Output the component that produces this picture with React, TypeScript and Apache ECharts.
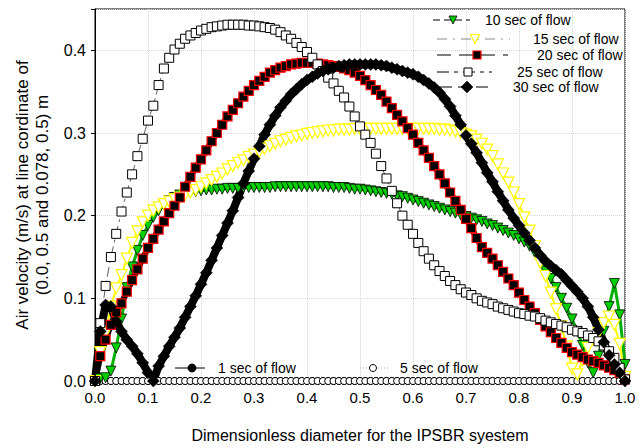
import React, { useEffect, useRef } from "react";
import * as echarts from "echarts";

const xs = [
  0.0, 0.01, 0.02, 0.03, 0.04, 0.05, 0.06, 0.07, 0.08, 0.09,
  0.1, 0.11, 0.12, 0.13, 0.14, 0.15, 0.16, 0.17, 0.18, 0.19,
  0.2, 0.21, 0.22, 0.23, 0.24, 0.25, 0.26, 0.27, 0.28, 0.29,
  0.3, 0.31, 0.32, 0.33, 0.34, 0.35, 0.36, 0.37, 0.38, 0.39,
  0.4, 0.41, 0.42, 0.43, 0.44, 0.45, 0.46, 0.47, 0.48, 0.49,
  0.5, 0.51, 0.52, 0.53, 0.54, 0.55, 0.56, 0.57, 0.58, 0.59,
  0.6, 0.61, 0.62, 0.63, 0.64, 0.65, 0.66, 0.67, 0.68, 0.69,
  0.7, 0.71, 0.72, 0.73, 0.74, 0.75, 0.76, 0.77, 0.78, 0.79,
  0.8, 0.81, 0.82, 0.83, 0.84, 0.85, 0.86, 0.87, 0.88, 0.89,
  0.9, 0.91, 0.92, 0.93, 0.94, 0.95, 0.96, 0.97, 0.98, 0.99, 1.0,
];

const sec1 = [
  0, 0, 0, 0, 0, 0, 0, 0, 0, 0,
  0, 0, 0, 0, 0, 0, 0, 0, 0, 0,
  0, 0, 0, 0, 0, 0, 0, 0, 0, 0,
  0, 0, 0, 0, 0, 0, 0, 0, 0, 0,
  0, 0, 0, 0, 0, 0, 0, 0, 0, 0,
  0, 0, 0, 0, 0, 0, 0, 0, 0, 0,
  0, 0, 0, 0, 0, 0, 0, 0, 0, 0,
  0, 0, 0, 0, 0, 0, 0, 0, 0, 0,
  0, 0, 0, 0, 0, 0, 0, 0, 0, 0,
  0, 0, 0, 0, 0, 0, 0, 0, 0, 0, 0,
];

const sec5 = [
  0, 0, 0, 0, 0, 0, 0, 0, 0, 0,
  0, 0, 0, 0, 0, 0, 0, 0, 0, 0,
  0, 0, 0, 0, 0, 0, 0, 0, 0, 0,
  0, 0, 0, 0, 0, 0, 0, 0, 0, 0,
  0, 0, 0, 0, 0, 0, 0, 0, 0, 0,
  0, 0, 0, 0, 0, 0, 0, 0, 0, 0,
  0, 0, 0, 0, 0, 0, 0, 0, 0, 0,
  0, 0, 0, 0, 0, 0, 0, 0, 0, 0,
  0, 0, 0, 0, 0, 0, 0, 0, 0, 0,
  0, 0, 0, 0, 0, 0, 0, 0, 0, 0, 0,
];

const sec10 = [
  0, 0.003, 0.004, 0.012, 0.04, 0.075, 0.113, 0.138, 0.158, 0.176,
  0.188, 0.198, 0.206, 0.213, 0.218, 0.222, 0.225, 0.227, 0.228, 0.229,
  0.23, 0.231, 0.231, 0.232, 0.232, 0.233, 0.233, 0.233, 0.234, 0.234,
  0.234, 0.234, 0.234, 0.234, 0.235, 0.235, 0.235, 0.235, 0.235, 0.235,
  0.235, 0.235, 0.235, 0.235, 0.235, 0.234, 0.234, 0.234, 0.233, 0.232,
  0.232, 0.231, 0.23, 0.229, 0.228, 0.227, 0.226, 0.224, 0.223, 0.221,
  0.219, 0.217, 0.215, 0.213, 0.211, 0.209, 0.207, 0.205, 0.203, 0.201,
  0.199, 0.197, 0.195, 0.193, 0.19, 0.188, 0.185, 0.182, 0.179, 0.176,
  0.172, 0.168, 0.163, 0.155, 0.146, 0.133, 0.124, 0.113, 0.1, 0.088,
  0.075, 0.06, 0.043, 0.022, 0.01, 0.03, 0.06, 0.09, 0.118, 0.08, 0.02,
];

const sec15 = [
  0, 0.035, 0.058, 0.09, 0.112, 0.128, 0.148, 0.167, 0.181, 0.192,
  0.2, 0.206, 0.21, 0.214, 0.217, 0.22, 0.222, 0.225, 0.228, 0.231,
  0.235, 0.239, 0.243, 0.247, 0.251, 0.256, 0.26, 0.264, 0.267, 0.271,
  0.274, 0.277, 0.281, 0.284, 0.287, 0.29, 0.292, 0.294, 0.296, 0.297,
  0.299, 0.3, 0.301, 0.302, 0.303, 0.303, 0.304, 0.304, 0.304, 0.305,
  0.305, 0.305, 0.305, 0.305, 0.305, 0.305, 0.305, 0.305, 0.305, 0.305,
  0.305, 0.305, 0.305, 0.305, 0.305, 0.304, 0.304, 0.303, 0.302, 0.3,
  0.298, 0.296, 0.292, 0.287, 0.28, 0.272, 0.262, 0.251, 0.24, 0.228,
  0.214, 0.198, 0.182, 0.163, 0.143, 0.127, 0.107, 0.087, 0.066, 0.042,
  0.015, 0.008, 0.025, 0.04, 0.05, 0.058, 0.07, 0.078, 0.068, 0.045, 0.005,
];

const sec20 = [
  0, 0.03, 0.05, 0.068, 0.083, 0.094, 0.108, 0.122, 0.135, 0.148,
  0.161, 0.172, 0.183, 0.193, 0.203, 0.212, 0.222, 0.235, 0.247, 0.258,
  0.268, 0.279, 0.29, 0.3, 0.31, 0.32, 0.328, 0.336, 0.344, 0.351,
  0.358, 0.363, 0.368, 0.373, 0.376, 0.379, 0.381, 0.383, 0.384, 0.385,
  0.385, 0.385, 0.384, 0.383, 0.382, 0.381, 0.38, 0.378, 0.376, 0.373,
  0.369, 0.364, 0.358, 0.352, 0.346, 0.338, 0.33, 0.322, 0.314, 0.306,
  0.298, 0.288, 0.279, 0.27, 0.26, 0.25, 0.239, 0.228, 0.218, 0.207,
  0.196, 0.185, 0.173, 0.162, 0.155, 0.148, 0.14, 0.132, 0.124, 0.116,
  0.107, 0.098, 0.09, 0.082, 0.074, 0.066, 0.059, 0.052, 0.046, 0.04,
  0.035, 0.032, 0.029, 0.026, 0.024, 0.022, 0.019, 0.016, 0.013, 0.01, 0.002,
];

const sec25 = [
  0, 0.07, 0.115, 0.15, 0.178, 0.205, 0.228, 0.25, 0.272, 0.293,
  0.315, 0.333, 0.358, 0.378, 0.391, 0.401, 0.408, 0.414, 0.418, 0.421,
  0.424, 0.426, 0.428, 0.429, 0.43, 0.431, 0.431, 0.431, 0.431, 0.43,
  0.43, 0.429, 0.428, 0.427, 0.425, 0.422, 0.418, 0.414, 0.409, 0.404,
  0.398, 0.391, 0.383, 0.375, 0.367, 0.36, 0.351, 0.343, 0.332, 0.32,
  0.308, 0.298, 0.288, 0.275, 0.26, 0.245, 0.23, 0.215, 0.2, 0.189,
  0.178, 0.167, 0.157, 0.148, 0.14, 0.133, 0.127, 0.121, 0.116, 0.111,
  0.107, 0.104, 0.1, 0.097, 0.095, 0.093, 0.09, 0.088, 0.086, 0.084,
  0.082, 0.081, 0.079, 0.078, 0.076, 0.073, 0.071, 0.069, 0.067, 0.065,
  0.062, 0.06, 0.058, 0.055, 0.052, 0.048, 0.043, 0.036, 0.028, 0.016, 0.002,
];

const sec30 = [
  0, 0.06, 0.092, 0.09, 0.072, 0.06, 0.05, 0.042, 0.033, 0.022,
  0.01, 0.0, 0.018, 0.03, 0.042, 0.053, 0.064, 0.077, 0.09, 0.103,
  0.117, 0.131, 0.146, 0.161, 0.176, 0.191, 0.206, 0.222, 0.239, 0.254,
  0.269, 0.284, 0.298, 0.31, 0.321, 0.331, 0.339, 0.347, 0.353, 0.359,
  0.364, 0.368, 0.372, 0.375, 0.377, 0.379, 0.381, 0.382, 0.383, 0.383,
  0.383, 0.383, 0.383, 0.383, 0.382, 0.381, 0.379, 0.377, 0.375, 0.373,
  0.371, 0.368, 0.364, 0.36, 0.355, 0.349, 0.341, 0.332, 0.321, 0.31,
  0.297, 0.287, 0.276, 0.264, 0.252, 0.241, 0.229, 0.218, 0.207, 0.197,
  0.188, 0.179, 0.17, 0.161, 0.152, 0.145, 0.139, 0.134, 0.129, 0.122,
  0.115, 0.108, 0.1, 0.09, 0.077, 0.062, 0.047, 0.031, 0.02, 0.01, 0.0,
];

const xTicks = ["0.0", "0.1", "0.2", "0.3", "0.4", "0.5", "0.6", "0.7", "0.8", "0.9", "1.0"];
const yTicks = ["0.0", "0.1", "0.2", "0.3", "0.4"];

const seriesNames = [
  "1 sec of flow",
  "5 sec of flow",
  "10 sec of flow",
  "15 sec of flow",
  "20 sec of flow",
  "25 sec of flow",
  "30 sec of flow",
];

const FONT = "Liberation Sans, Arial, sans-serif";

function pairs(ys: number[]) {
  return xs.map((x, i) => [x, ys[i]]);
}

function downTri(cx: number, cy: number, s: number) {
  return [
    [cx - s / 2, cy - s / 2],
    [cx + s / 2, cy - s / 2],
    [cx, cy + s / 2],
  ];
}

function legendItem(
  key: string,
  x1: number,
  x2: number,
  y: number,
  tx: number,
  dash: number[] | null,
  lineColor: string,
  marker: any,
  label: string
) {
  return {
    type: "group",
    id: key,
    children: [
      {
        type: "line",
        shape: { x1, y1: y, x2, y2: y },
        style: { stroke: lineColor, lineWidth: 1, lineDash: dash || undefined },
        z: 10,
      },
      { ...marker, z: 11 },
      {
        type: "text",
        x: tx,
        y,
        style: {
          text: label,
          fill: "#000",
          font: `14px ${FONT}`,
          textVerticalAlign: "middle",
          verticalAlign: "middle",
        },
        z: 11,
      },
    ],
  };
}

export default function App() {
  const ref = useRef<HTMLDivElement>(null);

  useEffect(() => {
    if (!ref.current) return;
    const chart = echarts.init(ref.current, undefined, { renderer: "svg" });

    const option: any = {
      animation: false,
      backgroundColor: "#fff",
      grid: {
        left: 95,
        right: 17,
        top: 9,
        bottom: 67,
        show: true,
        borderColor: "#000",
        borderWidth: 1,
        backgroundColor: "transparent",
      },
      xAxis: {
        type: "value",
        min: 0,
        max: 1,
        interval: 0.1,
        name: "Dimensionless diameter for the IPSBR syestem",
        nameLocation: "middle",
        nameGap: 46,
        nameTextStyle: { fontSize: 16, color: "#000", fontFamily: FONT },
        axisLine: { show: true, lineStyle: { color: "#000" } },
        axisTick: { show: true, length: 4, lineStyle: { color: "#000" } },
        axisLabel: {
          fontSize: 15,
          color: "#000",
          fontFamily: FONT,
          margin: 9,
          formatter: (v: number) => xTicks[Math.round(v * 10)] ?? "",
        },
        splitLine: { show: true, lineStyle: { color: "#d8d8d8", type: "dotted" } },
      },
      yAxis: {
        type: "value",
        min: 0,
        max: 0.45,
        interval: 0.1,
        name: "Air velocity (m/s) at line cordinate of\n(0.0, 0.5 and 0.078, 0.5) m",
        nameLocation: "middle",
        nameGap: 36,
        nameTextStyle: { fontSize: 17, color: "#000", fontFamily: FONT, lineHeight: 20 },
        axisLine: { show: true, lineStyle: { color: "#000" } },
        axisTick: { show: true, length: 4, lineStyle: { color: "#000" } },
        axisLabel: {
          fontSize: 16,
          color: "#000",
          fontFamily: FONT,
          margin: 9,
          formatter: (v: number) => yTicks[Math.round(v * 10)] ?? "",
        },
        splitLine: { show: true, lineStyle: { color: "#d8d8d8", type: "dotted" } },
      },
      series: [
        {
          name: seriesNames[0],
          type: "line",
          data: pairs(sec1),
          symbol: "circle",
          symbolSize: 7,
          itemStyle: { color: "#000", borderColor: "#000", borderWidth: 1 },
          lineStyle: { width: 1, color: "#000", type: "solid" },
        },
        {
          name: seriesNames[1],
          type: "line",
          data: pairs(sec5),
          symbol: "circle",
          symbolSize: 7,
          itemStyle: { color: "#fff", borderColor: "#000", borderWidth: 1 },
          lineStyle: { width: 1, color: "#666", type: "dotted" },
        },
        {
          name: seriesNames[2],
          type: "line",
          data: pairs(sec10),
          symbol: "triangle",
          symbolRotate: 180,
          symbolSize: 10,
          itemStyle: { color: "#00d000", borderColor: "#000", borderWidth: 0.8 },
          lineStyle: { width: 3, color: "#00b000", type: "solid" },
        },
        {
          name: seriesNames[3],
          type: "line",
          data: pairs(sec15),
          symbol: "triangle",
          symbolRotate: 180,
          symbolSize: 11,
          itemStyle: { color: "#fff", borderColor: "#ffff00", borderWidth: 1.2 },
          lineStyle: { width: 2, color: "#ffff00", type: "solid" },
        },
        {
          name: seriesNames[4],
          type: "line",
          data: pairs(sec20),
          symbol: "rect",
          symbolSize: 9,
          itemStyle: { color: "#000", borderColor: "#ff0000", borderWidth: 1.2 },
          lineStyle: { width: 6, color: "#000", type: "solid" },
        },
        {
          name: seriesNames[5],
          type: "line",
          data: pairs(sec25),
          symbol: "rect",
          symbolSize: 9,
          itemStyle: { color: "#fff", borderColor: "#000", borderWidth: 1 },
          lineStyle: { width: 0.8, color: "#333", type: [10, 4, 3, 4] },
        },
        {
          name: seriesNames[6],
          type: "line",
          data: pairs(sec30),
          symbol: "diamond",
          symbolSize: 12,
          itemStyle: { color: "#000", borderColor: "#000", borderWidth: 0.5 },
          lineStyle: { width: 8, color: "#000", type: "solid" },
        },
      ],
      graphic: [
        legendItem("lg10", 433, 470, 20, 485, [7, 4], "#000",
          { type: "polygon", shape: { points: downTri(453, 20, 8) }, style: { fill: "#00d000", stroke: "#000", lineWidth: 0.8 } },
          seriesNames[2]),
        legendItem("lg15", 437, 510, 39, 533, [10, 6, 2, 6], "#888",
          { type: "polygon", shape: { points: downTri(475, 39, 9) }, style: { fill: "#fff", stroke: "#ffff00", lineWidth: 1.2 } },
          seriesNames[3]),
        legendItem("lg20", 437, 508, 55, 537, [14, 8], "#000",
          { type: "rect", shape: { x: 473, y: 51, width: 8, height: 8 }, style: { fill: "#000", stroke: "#ff0000", lineWidth: 1.2 } },
          seriesNames[4]),
        legendItem("lg25", 437, 492, 72, 517, [12, 5, 4, 5], "#000",
          { type: "rect", shape: { x: 464, y: 68, width: 8, height: 8 }, style: { fill: "#fff", stroke: "#000", lineWidth: 1 } },
          seriesNames[5]),
        legendItem("lg30", 440, 490, 87, 513, [12, 6], "#000",
          { type: "polygon", shape: { points: [[467, 81], [473, 87], [467, 93], [461, 87]] }, style: { fill: "#000", stroke: "#000", lineWidth: 0.5 } },
          seriesNames[6]),
        legendItem("lg1", 175, 205, 368, 218, null, "#000",
          { type: "circle", shape: { cx: 192, cy: 368, r: 4 }, style: { fill: "#000", stroke: "#000" } },
          seriesNames[0]),
        legendItem("lg5", 360, 390, 368, 400, [1, 2], "#aaa",
          { type: "circle", shape: { cx: 373, cy: 368, r: 3.5 }, style: { fill: "#fff", stroke: "#000", lineWidth: 1 } },
          seriesNames[1]),
      ],
    };

    chart.setOption(option);
    return () => chart.dispose();
  }, []);

  return (
    <div
      ref={ref}
      style={{ position: "absolute", left: 0, top: 0, width: 642, height: 448, background: "#fff" }}
    />
  );
}
